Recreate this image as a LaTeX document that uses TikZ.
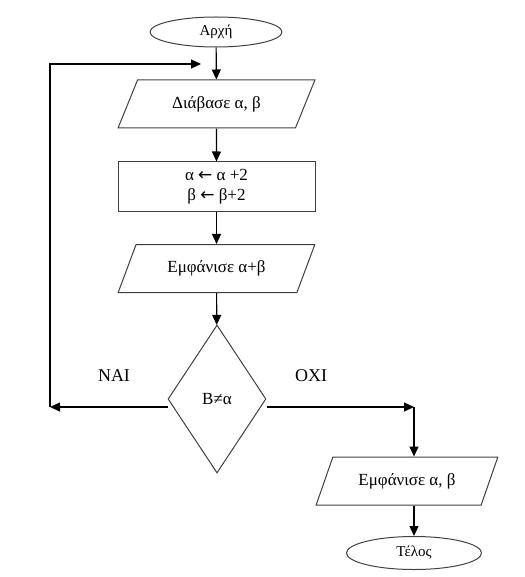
\documentclass[tikz,border=0pt]{standalone}
\usepackage{fontspec}
\setmainfont{Liberation Serif}
\newfontfamily\flechefont{DejaVu Sans}
\usepackage{tikz}
\usetikzlibrary{arrows,arrows.meta,shapes.geometric}

\begin{document}
\begin{tikzpicture}[x=1pt,y=-1pt]
	\tikzstyle{texte}=[font=\fontsize{17}{20}\selectfont]
	\tikzstyle{borne}=[ellipse,draw=black!75,line width=1pt,inner sep=0pt,font=\fontsize{15}{17}\selectfont]
	\tikzstyle{entree}=[trapezium,trapezium left angle=55,trapezium right angle=125,trapezium stretches=true,draw=black!75,line width=1pt,inner sep=0pt,minimum height=48,texte]
	\tikzstyle{calcul}=[rectangle,draw=black!75,line width=1pt,minimum width=197,minimum height=49,inner sep=0pt,align=center,texte]
	\tikzstyle{test}=[diamond,draw=black!75,line width=1pt,inner sep=0pt,minimum width=98,minimum height=148,texte]
	\tikzstyle{fleche}=[-{Triangle[length=10pt,width=9pt]},line width=1.2pt]
	\useasboundingbox (0,0) rectangle (524,577);
	\node[borne,minimum width=132,minimum height=30] (A) at (216,32){Αρχή};
	\node[entree,minimum width=197] (B) at (216.5,104){Διάβασε α, β};
	\node[calcul] (C) at (216.5,186.5){α {\flechefont←} α +2\\β {\flechefont←} β+2};
	\node[entree,minimum width=197] (D) at (216.5,268.5){Εμφάνισε α+β};
	\node[test] (E) at (217,399){Β≠α};
	\node[entree,minimum width=182] (F) at (407,481){Εμφάνισε α, β};
	\node[borne,minimum width=135,minimum height=33] (G) at (414,553){Τέλος};
	\node[font=\fontsize{18}{20}\selectfont] (oui) at (114,376){ΝΑΙ};
	\node[font=\fontsize{18}{20}\selectfont] (non) at (311,376){ΟΧΙ};
	\coordinate (retour) at (50,407);
	\coordinate (haut) at (50,64);
	\coordinate (boucle) at (201,64);
	\coordinate (droite) at (414,407);
	\draw[fleche] (A) -- (B);
	\draw[fleche] (B) -- (C);
	\draw[fleche] (C) -- (D);
	\draw[fleche] (D) -- (E);
	\draw[fleche] (E.west |- retour) -- (retour);
	\draw[fleche] (retour) -- (haut) -- (boucle);
	\draw[fleche] (E.east |- droite) -- (droite);
	\draw[fleche] (droite) -- (droite |- F.north);
	\draw[fleche] (F.south -| G) -- (G);
%	\draw[fleche] (E) -| (F);
\end{tikzpicture}
\end{document}
